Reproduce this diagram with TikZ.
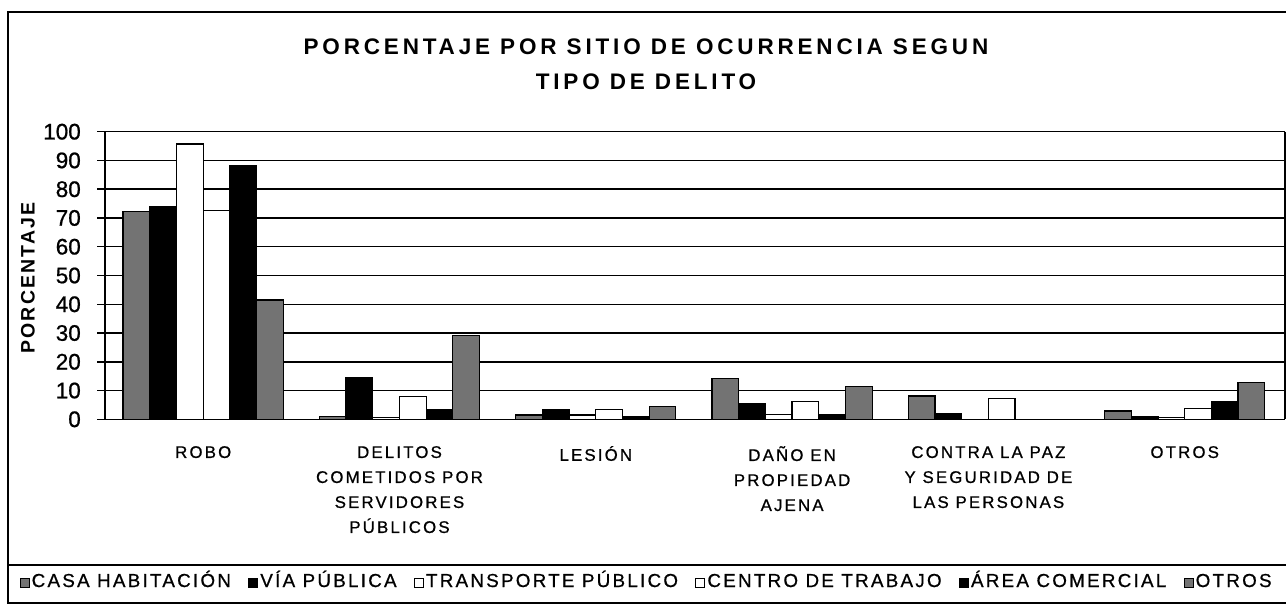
\documentclass[tikz,border=0pt]{standalone}
\usepackage{fontspec}
\setmainfont{Liberation Sans}
\usetikzlibrary{positioning}

\begin{document}
\begin{tikzpicture}[
        x=1pt, y=-1pt,
        grid/.style = {line width=1.5pt},
        frame/.style = {line width=1.8pt},
        bar/.style = {draw, line width=1.2pt},
        bar0/.style = {bar, fill=black!55},
        bar1/.style = {bar, fill=black},
        bar2/.style = {bar, fill=white},
        bar3/.style = {bar, fill=white},
        bar4/.style = {bar, fill=black},
        bar5/.style = {bar, fill=black!55},
        title/.style = {align=center, inner sep=0pt, font=\bfseries\fontsize{22.5}{35}\selectfont\addfontfeature{LetterSpace=17}},
        ylab/.style = {inner sep=0pt, rotate=90, font=\bfseries\fontsize{19.5}{20}\selectfont\addfontfeature{LetterSpace=11}},
        ticklabel/.style = {anchor=east, inner sep=0pt, font=\fontsize{22.5}{26}\selectfont\addfontfeature{FakeBold=0.8}},
        catlabel/.style = {anchor=north, align=center, inner sep=0pt, font=\fontsize{16.8}{25}\selectfont\addfontfeature{LetterSpace=13,FakeBold=0.8}},
        legsq/.style = {line width=1pt, minimum size=9pt, inner sep=0pt},
        legtxt/.style = {inner sep=0pt, text height=9pt, text depth=0pt, font=\fontsize{18.8}{20}\selectfont\addfontfeature{LetterSpace=12,FakeBold=0.8}}
    ]
 \useasboundingbox (0,0) rectangle (1286,610);
 \draw[frame] (1290,12) -- (8,12) -- (8,603) -- (1290,603);
 \draw[frame] (8,565) -- (1290,565);

 \node[title] (title) at (646,64.5) {PORCENTAJE POR SITIO DE OCURRENCIA SEGUN\\TIPO DE DELITO};
 \node[ylab] (ylabel) at (28,278) {PORCENTAJE};

 \foreach \t in {0,10,...,100} {
     \draw[grid] (97,{419.3-\t*2.876}) -- (1285,{419.3-\t*2.876});
     \node[ticklabel] (tick\t) at (81,{419.3-\t*2.876}) {\t};
 }
 \draw[grid] (105,131.7) -- (105,419.3);
 \draw[grid] (1285,131.7) -- (1285,419.3);

 \foreach \vals [count=\g from 0] in {
         {72.2,73.9,95.7,72.5,88.1,41.5},
         {1.0,14.5,0.5,7.9,3.4,29.0},
         {1.5,3.3,1.5,3.5,1.0,4.5},
         {14.3,5.6,1.8,6.2,1.8,11.4},
         {8.1,2.1,0,7.1,0,0},
         {2.9,1.1,0.5,3.8,6.2,12.9}}
     \foreach \v [count=\b from 0] in \vals {
         \ifdim \v pt>0pt
             \draw[bar\b] ({123+\g*196.3+\b*26.7},419.3) rectangle ++(26.7,{-\v*2.876});
         \fi
     };

 \foreach \lab [count=\g from 0] in {ROBO, DELITOS\\COMETIDOS POR\\SERVIDORES\\PÚBLICOS, LESIÓN,
         DAÑO EN\\PROPIEDAD\\AJENA, CONTRA LA PAZ\\Y SEGURIDAD DE\\LAS PERSONAS, OTROS}
     \node[catlabel] (cat\g) at ({203.2+\g*196.3},446) {\lab};

 \node[bar0, legsq] (sq1) at (24.5,582.5) {};
 \node[legtxt, right=2pt of sq1] (lt1) {CASA HABITACIÓN};
 \node[bar1, legsq, right=17pt of lt1] (sq2) {};
 \node[legtxt, right=2pt of sq2] (lt2) {VÍA PÚBLICA};
 \node[bar2, legsq, right=17pt of lt2] (sq3) {};
 \node[legtxt, right=2pt of sq3] (lt3) {TRANSPORTE PÚBLICO};
 \node[bar3, legsq, right=17pt of lt3] (sq4) {};
 \node[legtxt, right=2pt of sq4] (lt4) {CENTRO DE TRABAJO};
 \node[bar4, legsq, right=17pt of lt4] (sq5) {};
 \node[legtxt, right=2pt of sq5] (lt5) {ÁREA COMERCIAL};
 \node[bar5, legsq, right=17pt of lt5] (sq6) {};
 \node[legtxt, right=2pt of sq6] (lt6) {OTROS};
\end{tikzpicture}
\end{document}
